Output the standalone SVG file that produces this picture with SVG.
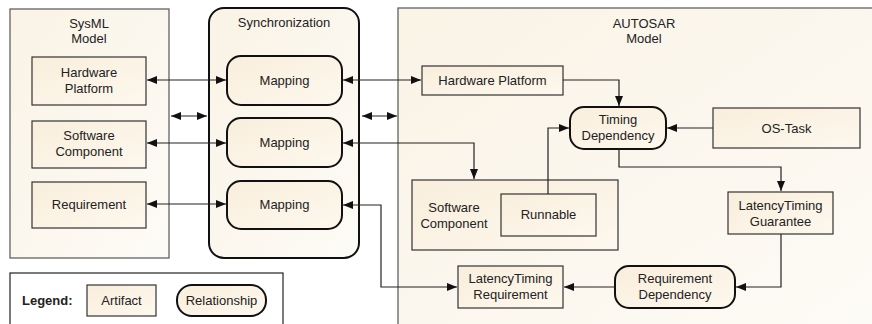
<svg xmlns="http://www.w3.org/2000/svg" width="872" height="324" viewBox="0 0 872 324">
<defs>
<linearGradient id="cg" x1="0" y1="0" x2="1" y2="1">
<stop offset="0" stop-color="#faf3e6"/><stop offset="1" stop-color="#fdfbf6"/>
</linearGradient>
<linearGradient id="ng" x1="0" y1="0" x2="1" y2="1">
<stop offset="0" stop-color="#f9eedc"/><stop offset="1" stop-color="#fdf8ee"/>
</linearGradient>
<marker id="ah" viewBox="0 0 10 10" refX="10" refY="5" markerWidth="10" markerHeight="10" markerUnits="userSpaceOnUse" orient="auto-start-reverse">
<path d="M0,1 L10,5 L0,9 Z" fill="#111"/>
</marker>
</defs>
<style>
text{font-family:"Liberation Sans",Arial,sans-serif;font-size:13px;fill:#222;text-anchor:middle}
.cont{fill:url(#cg);stroke:#555;stroke-width:1.2}
.art{fill:url(#ng);stroke:#333;stroke-width:1.2}
.rel{fill:url(#ng);stroke:#111;stroke-width:2}
.c{fill:none;stroke:#222;stroke-width:1.2}
.a{marker-end:url(#ah)}
.b{marker-start:url(#ah);marker-end:url(#ah)}
</style>
<rect width="872" height="324" fill="#ffffff"/>

<g id="sysml">
<rect class="cont" x="10" y="9" width="159" height="249"/>
<text x="89" y="28">SysML</text><text x="89" y="43">Model</text>
</g>
<g id="sync">
<rect class="cont" x="209" y="8" width="150" height="250" rx="15" style="stroke:#111;stroke-width:2"/>
<text x="284" y="27">Synchronization</text>
</g>
<g id="autosar">
<rect class="cont" x="398" y="8" width="490" height="330"/>
<text x="644" y="28">AUTOSAR</text><text x="644" y="43">Model</text>
</g>
<g id="legend">
<rect x="10" y="273" width="273" height="70" fill="#fff" stroke="#222" stroke-width="1.2"/>
<text x="22" y="305" style="text-anchor:start;font-weight:bold">Legend:</text>
<rect class="art" x="87" y="285" width="69" height="31"/>
<text x="121.5" y="305">Artifact</text>
<rect class="rel" x="177" y="285" width="89" height="31" rx="15"/>
<text x="221.5" y="305">Relationship</text>
</g>

<g id="s-hw"><rect class="art" x="32" y="57" width="114" height="48"/><text x="89" y="77">Hardware</text><text x="89" y="93">Platform</text></g>
<g id="s-sw"><rect class="art" x="32" y="121" width="114" height="47"/><text x="89" y="140">Software</text><text x="89" y="156">Component</text></g>
<g id="s-req"><rect class="art" x="32" y="182" width="114" height="46"/><text x="89" y="209">Requirement</text></g>

<g id="map1"><rect class="rel" x="227" y="56" width="115" height="49" rx="14"/><text x="284.5" y="85">Mapping</text></g>
<g id="map2"><rect class="rel" x="227" y="118" width="115" height="49" rx="14"/><text x="284.5" y="147">Mapping</text></g>
<g id="map3"><rect class="rel" x="227" y="181" width="115" height="48" rx="14"/><text x="284.5" y="209">Mapping</text></g>

<g id="a-hw"><rect class="art" x="422" y="66" width="141" height="29"/><text x="492.5" y="85">Hardware Platform</text></g>
<g id="timing"><rect class="rel" x="570" y="107" width="96" height="42" rx="14"/><text x="618" y="124">Timing</text><text x="618" y="140">Dependency</text></g>
<g id="ostask"><rect class="art" x="713" y="108" width="147" height="40"/><text x="786.5" y="133">OS-Task</text></g>
<g id="a-sw"><rect class="art" x="412" y="180" width="206" height="70"/><text x="454" y="212">Software</text><text x="454" y="228">Component</text></g>
<g id="runnable"><rect class="art" x="501" y="194" width="95" height="42"/><text x="548.5" y="219">Runnable</text></g>
<g id="ltg"><rect class="art" x="728" y="192" width="105" height="42"/><text x="780.5" y="210">LatencyTiming</text><text x="780.5" y="226">Guarantee</text></g>
<g id="reqdep"><rect class="rel" x="615" y="266" width="120" height="42" rx="14"/><text x="675" y="283">Requirement</text><text x="675" y="299">Dependency</text></g>
<g id="ltr"><rect class="art" x="458" y="266" width="105" height="42"/><text x="510.5" y="283">LatencyTiming</text><text x="510.5" y="299">Requirement</text></g>

<g id="connectors">
<line class="c b" x1="147" y1="80" x2="226" y2="80"/>
<line class="c b" x1="147" y1="143" x2="226" y2="143"/>
<line class="c b" x1="147" y1="204" x2="226" y2="204"/>
<line class="c b" x1="171" y1="116" x2="207" y2="116"/>
<line class="c b" x1="362" y1="116" x2="397" y2="116"/>
<line class="c b" x1="343" y1="80" x2="421" y2="80"/>
<polyline class="c b" points="343,143 474,143 474,179"/>
<polyline class="c b" points="343,205 381,205 381,287 457,287"/>
<polyline class="c a" points="563,80 619,80 619,106"/>
<polyline class="c a" points="548,194 548,128 569,128"/>
<line class="c a" x1="713" y1="128" x2="667" y2="128"/>
<polyline class="c a" points="619,149 619,167 781,167 781,191"/>
<polyline class="c a" points="781,234 781,287 736,287"/>
<line class="c a" x1="615" y1="287" x2="564" y2="287"/>
</g>
</svg>
